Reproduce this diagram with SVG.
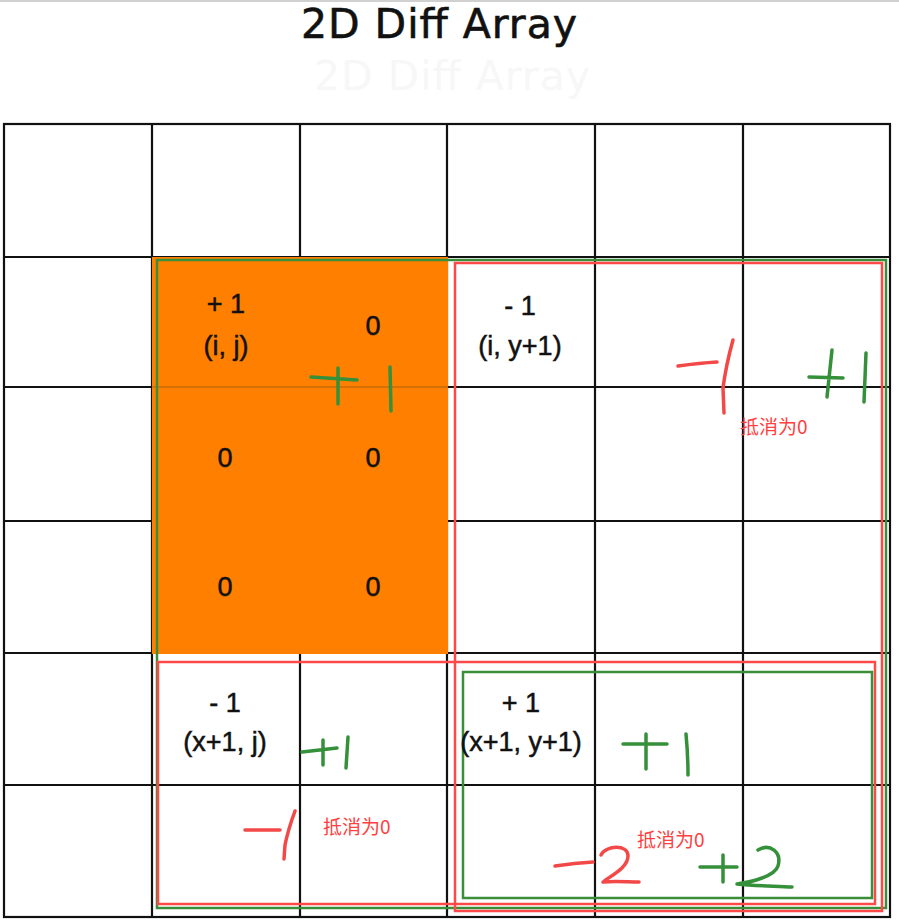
<svg xmlns="http://www.w3.org/2000/svg" width="899" height="921" viewBox="0 0 899 921">
<style>
.grid{stroke:#111;stroke-width:2.2;fill:none}
.cell{font-family:"Liberation Sans","Open Sans",sans-serif;font-size:27px;fill:#111;stroke:#111;stroke-width:0.5;text-anchor:middle}
.title{font-family:"DejaVu Sans",sans-serif;font-size:41px;fill:#111;stroke:#111;stroke-width:0.6;text-anchor:middle}
.rg{fill:none;stroke:#3a8e3a;stroke-width:2.5}
.rr{fill:none;stroke:#ff4848;stroke-width:2.5}
.hg{fill:none;stroke:#35903a;stroke-width:3.5;stroke-linecap:round;stroke-linejoin:round}
.hr{fill:none;stroke:#f24848;stroke-width:3.5;stroke-linecap:round;stroke-linejoin:round}
.note{font-family:"Noto Sans CJK SC",sans-serif;font-size:19px;fill:#ff4040}
</style>
<rect width="899" height="921" fill="#fff"/>
<line x1="0" y1="1" x2="899" y2="1" stroke="#d0d0d0" stroke-width="2"/>
<g id="title">
<text class="title" x="439" y="38" textLength="276" lengthAdjust="spacing">2D Diff Array</text>
<text class="title" x="452" y="90" textLength="276" lengthAdjust="spacing" style="fill:#f7f7f7;stroke:none">2D Diff Array</text>
</g>
<g id="grid" class="grid">
<rect x="4" y="124" width="886" height="793"/>
<line x1="152" y1="124" x2="152" y2="917"/>
<line x1="300" y1="124" x2="300" y2="917"/>
<line x1="447" y1="124" x2="447" y2="917"/>
<line x1="595" y1="124" x2="595" y2="917"/>
<line x1="743" y1="124" x2="743" y2="917"/>
<line x1="4" y1="257" x2="890" y2="257"/>
<line x1="4" y1="387" x2="890" y2="387"/>
<line x1="4" y1="521" x2="890" y2="521"/>
<line x1="4" y1="653" x2="890" y2="653"/>
<line x1="4" y1="785" x2="890" y2="785"/>
</g>
<g id="highlight">
<rect x="152" y="257" width="296" height="397" fill="#ff8000"/>
<line x1="152" y1="387" x2="448" y2="387" stroke="#7a4a10" stroke-width="1" opacity="0.6"/>
</g>
<g id="regions">
<rect id="regionA" class="rg" x="157" y="260" width="729" height="648"/>
<rect id="regionB" class="rr" x="455" y="263" width="427" height="648"/>
<rect id="regionC" class="rr" x="158" y="662" width="717" height="242"/>
<rect id="regionD" class="rg" x="463" y="672" width="409" height="226"/>
</g>
<g id="cell-ij"><text class="cell" x="226" y="313">+ 1</text><text class="cell" x="226" y="355">(i, j)</text></g>
<g id="cell-0a"><text class="cell" x="373" y="335">0</text></g>
<g id="cell-0b"><text class="cell" x="225" y="467">0</text></g>
<g id="cell-0c"><text class="cell" x="373" y="467">0</text></g>
<g id="cell-0d"><text class="cell" x="225" y="596">0</text></g>
<g id="cell-0e"><text class="cell" x="373" y="596">0</text></g>
<g id="cell-iy1"><text class="cell" x="520" y="315">- 1</text><text class="cell" x="520" y="355">(i, y+1)</text></g>
<g id="cell-x1j"><text class="cell" x="225" y="712">- 1</text><text class="cell" x="225" y="751">(x+1, j)</text></g>
<g id="cell-x1y1"><text class="cell" x="521" y="712">+ 1</text><text class="cell" x="521" y="751">(x+1, y+1)</text></g>
<g id="marks">
<path class="hg" d="M311,377 L357,380 M338,368 L338,404 M390,367 L391,411"/>
<path class="hr" d="M678,366 Q700,363 717,362 M733,340 Q726,365 723,388 L724,413"/>
<path class="hg" d="M809,377 L843,378 M832,350 L827,397 M866,353 L864,402"/>
<path class="hg" d="M302,752 L337,748 M323,740 L323,765 M348,737 L346,768"/>
<path class="hr" d="M245,830 L280,830 M295,811 Q288,830 285,845 L284,859"/>
<path class="hg" d="M623,744 L667,744 M646,734 L646,769 M686,734 Q688,755 688,775"/>
<path class="hr" d="M555,866 Q575,863 593,862 M601,855 C606,845 628,844 628,856 C628,868 610,876 603,882 C615,881 628,882 639,882"/>
<path class="hg" d="M700,867 L737,867 M723,855 L723,882 M758,850 C770,843 782,852 778,866 C775,876 752,882 737,884 C755,886 775,886 792,887"/>
</g>
<g id="notes">
<text class="note" x="740" y="434">抵消为0</text>
<text class="note" x="323" y="834">抵消为0</text>
<text class="note" x="637" y="847">抵消为0</text>
</g>
</svg>
